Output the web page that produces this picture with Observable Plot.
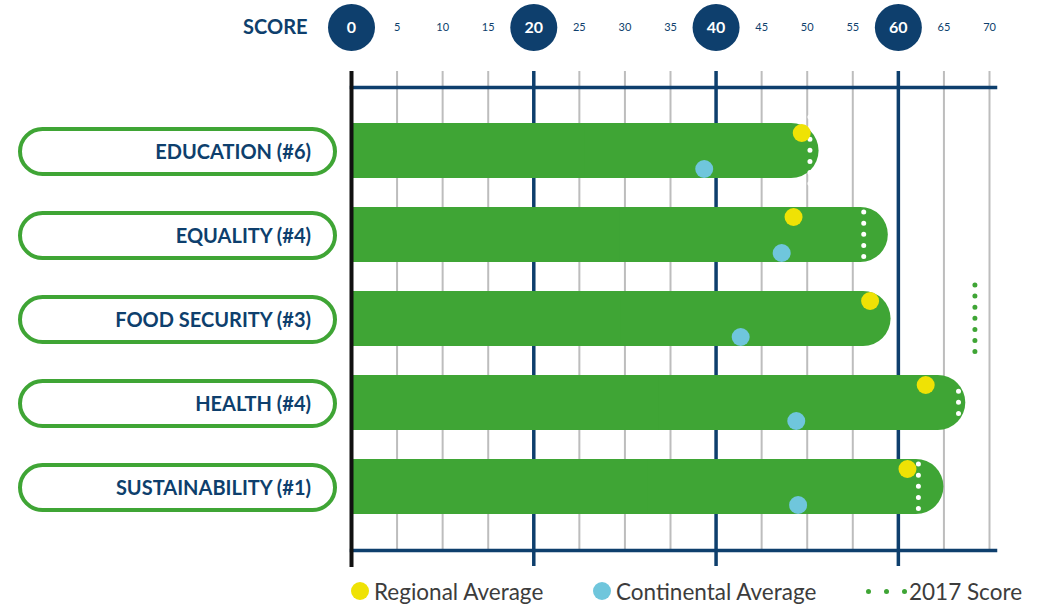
<!DOCTYPE html>
<html>
<head>
<meta charset="utf-8">
<script src="https://cdn.jsdelivr.net/npm/d3@7"></script>
<script src="https://cdn.jsdelivr.net/npm/@observablehq/plot@0.6"></script>
<style>
  html, body { margin: 0; padding: 0; background: #ffffff; }
  #wrap { position: relative; width: 1045px; height: 606px; overflow: hidden; font-family: Lato, "Open Sans", sans-serif; }
  #chart svg { display: block; }
  #legend { position: absolute; left: 0; top: 575px; height: 32px; width: 1045px; font-family: Lato, sans-serif; font-size: 22.5px; color: #3c3c3c; }
  .item { position: absolute; top: 0; display: flex; align-items: center; height: 32px; white-space: nowrap; }
  .sw { width: 18px; height: 18px; border-radius: 50%; margin-right: 5px; }
  .gdots { display: flex; align-items: center; margin-right: 2px; }
  .gdots span { width: 5px; height: 5px; border-radius: 50%; background: #3fa535; margin-right: 13px; }
  .gdots span:last-child { margin-right: 0; }
</style>
</head>
<body>
<div id="wrap">
  <div id="chart"></div>
  <div id="legend"></div>
</div>
<script>
// ---- data ----
const categories = ["EDUCATION (#6)", "EQUALITY (#4)", "FOOD SECURITY (#3)", "HEALTH (#4)", "SUSTAINABILITY (#1)"];
const scores = [51.3, 58.9, 59.2, 67.4, 65.0];
const regionalAvg = [49.4, 48.5, 56.9, 63.0, 61.0];
const continentalAvg = [38.7, 47.2, 42.7, 48.8, 49.0];
const score2017 = [50.3, 56.2, 68.4, 66.6, 62.2];
const tickValues = [0, 5, 10, 15, 20, 25, 30, 35, 40, 45, 50, 55, 60, 65, 70];
const majorTicks = [0, 20, 40, 60];
const legendLabels = ["Regional Average", "Continental Average", "2017 Score"];

// ---- styles ----
const NAVY = "#0e3f6d";
const GREEN = "#3fa535";
const YELLOW = "#efe205";
const BLUE = "#6fc6dc";
const GRAY = "#bdbdbd";

const rows = categories.map((c, i) => ({
  cat: c, score: scores[i], regional: regionalAvg[i], continental: continentalAvg[i], s2017: score2017[i]
}));
const minorTicks = tickValues.filter(t => !majorTicks.includes(t));

// pill labels drawn with the y scale
function pills(index, scales, values, dimensions) {
  const y = scales.y;
  const bw = y.bandwidth ? y.bandwidth() : 0;
  const g = d3.create("svg:g");
  for (const c of categories) {
    const cy = y(c) + bw / 2 + 1;
    g.append("rect")
      .attr("x", 20).attr("y", cy - 22.5).attr("width", 315).attr("height", 45)
      .attr("rx", 22.5).attr("ry", 22.5)
      .attr("fill", "white").attr("stroke", GREEN).attr("stroke-width", 4);
    g.append("text")
      .attr("x", 311).attr("y", cy).attr("dy", "0.36em")
      .attr("text-anchor", "end")
      .attr("font-family", "Lato, sans-serif").attr("font-weight", 700)
      .attr("font-size", 20).attr("fill", NAVY)
      .text(c);
  }
  return g.node();
}

const plot = Plot.plot({
  width: 1045,
  height: 574,
  marginLeft: 351,
  marginRight: 56,
  marginTop: 87,
  marginBottom: 24,
  style: { fontFamily: "Lato, sans-serif", background: "transparent", overflow: "visible" },
  x: { domain: [0, 70], axis: null },
  y: { type: "band", domain: categories, paddingInner: 0.347, paddingOuter: 0.4214, axis: null },
  marks: [
    Plot.ruleX(minorTicks, { x: d => d, stroke: GRAY, strokeWidth: 2, insetTop: -16 }),
    Plot.ruleX(majorTicks.filter(d => d > 0), { x: d => d, stroke: NAVY, strokeWidth: 3.5, insetTop: -16, insetBottom: -16 }),
    Plot.frame({ anchor: "top", stroke: NAVY, strokeWidth: 3.5, insetRight: -6 }),
    Plot.frame({ anchor: "bottom", stroke: NAVY, strokeWidth: 3.5, insetRight: -6 }),
    Plot.barX(rows, { x1: 0, x2: "score", y: "cat", fill: GREEN, rx: 27.5 }),
    Plot.barX(rows, { x1: 0, x2: d => d.score / 2, y: "cat", fill: GREEN }),
    Plot.ruleX([majorTicks[0]], { x: d => d, stroke: "#111", strokeWidth: 4, insetTop: -16, insetBottom: -17 }),
    Plot.ruleX(rows, {
      x: "s2017", y1: "cat", y2: "cat",
      stroke: d => d.s2017 < d.score ? "#ffffff" : GREEN,
      strokeWidth: 5, strokeDasharray: "0 11.1", strokeLinecap: "round",
      insetTop: -6, insetBottom: -6
    }),
    Plot.dot(rows, { x: "regional", y: "cat", r: 9, fill: YELLOW, dy: -18 }),
    Plot.dot(rows, { x: "continental", y: "cat", r: 9, fill: BLUE, dy: 18 }),
    // header
    Plot.dot(majorTicks, { x: d => d, frameAnchor: "top", dy: -60, r: 23.5, fill: NAVY }),
    Plot.text(majorTicks, { x: d => d, text: d => String(d), frameAnchor: "top", lineAnchor: "middle", dy: -60, fill: "white", fontSize: 16, fontWeight: 700 }),
    Plot.text(minorTicks, { x: d => d, text: d => String(d), frameAnchor: "top", lineAnchor: "middle", dy: -60, fill: NAVY, fontSize: 11 }),
    Plot.text([majorTicks[0]], { x: d => d, text: () => "SCORE", frameAnchor: "top", lineAnchor: "middle", dy: -60, dx: -44, textAnchor: "end", fill: NAVY, fontSize: 20, fontWeight: 700 }),
    pills
  ]
});
document.getElementById("chart").appendChild(plot);

// legend
const legend = document.getElementById("legend");
const items = [
  { left: 351, kind: "dot", color: YELLOW, label: legendLabels[0] },
  { left: 593, kind: "dot", color: BLUE, label: legendLabels[1] },
  { left: 866, kind: "dots", color: GREEN, label: legendLabels[2] }
];
for (const it of items) {
  const d = document.createElement("div");
  d.className = "item";
  d.style.left = it.left + "px";
  if (it.kind === "dot") {
    const s = document.createElement("span");
    s.className = "sw"; s.style.background = it.color;
    d.appendChild(s);
  } else {
    const s = document.createElement("span");
    s.className = "gdots";
    s.innerHTML = "<span></span><span></span><span></span>";
    d.appendChild(s);
  }
  const t = document.createElement("span");
  t.textContent = it.label;
  d.appendChild(t);
  legend.appendChild(d);
}
</script>
</body>
</html>
